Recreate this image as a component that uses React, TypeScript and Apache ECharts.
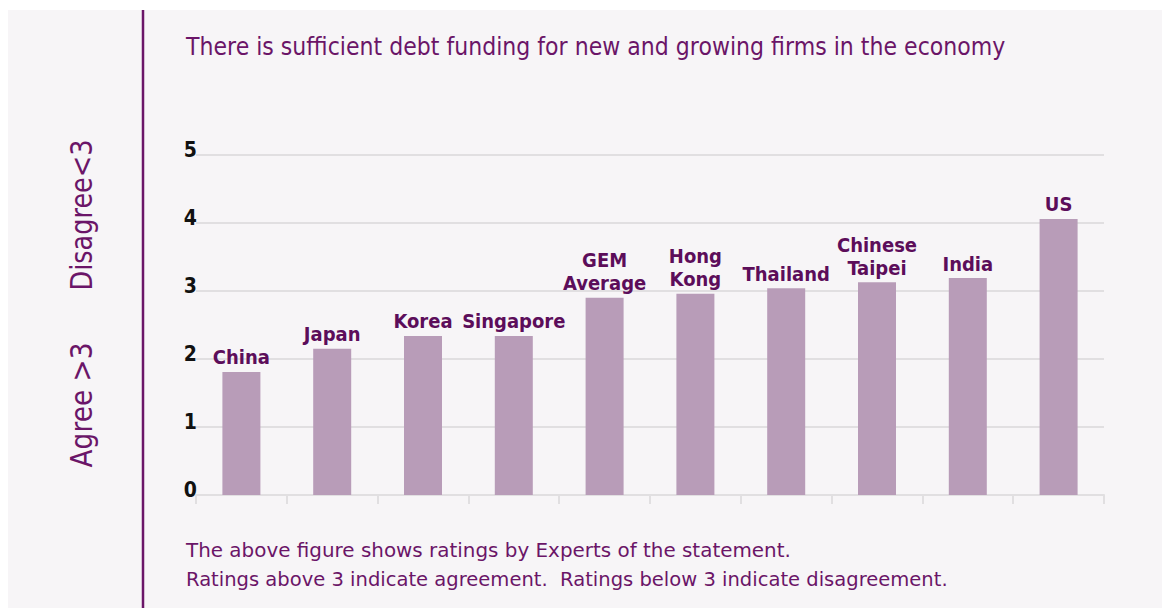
import React, { useEffect, useRef } from "react";
import * as echarts from "echarts";

const categories: string[] = [
  "China",
  "Japan",
  "Korea",
  "Singapore",
  "GEM\nAverage",
  "Hong\nKong",
  "Thailand",
  "Chinese\nTaipei",
  "India",
  "US",
];
const ratings: number[] = [1.81, 2.15, 2.34, 2.34, 2.9, 2.96, 3.04, 3.13, 3.19, 4.06];
const yTicks = { min: 0, max: 5, interval: 1 };

const titleText = "There is sufficient debt funding for new and growing firms in the economy";
const noteLine1 = "The above figure shows ratings by Experts of the statement.";
const noteLine2 = "Ratings above 3 indicate agreement.  Ratings below 3 indicate disagreement.";
const sideTop = "Disagree<3";
const sideBottom = "Agree >3";

const PURPLE = "#6b1568";
const LABEL = "#5c0d5a";
const BAR = "#b89cb8";
const GRID = "#e1dfe1";
const BG = "#f7f5f7";
const FONT = "DejaVu Sans";
const COND = "'DejaVu Sans Condensed', 'DejaVu Sans'";

function measure(text: string, size: number, weight = "normal"): number {
  const c = document.createElement("canvas").getContext("2d");
  if (!c) return text.length * size * 0.55;
  c.font = `${weight} ${size}px "${FONT}"`;
  return c.measureText(text).width;
}

function fitText(
  text: string,
  size: number,
  targetWidth: number,
  x: number,
  y: number,
  opts: any = {}
) {
  const w = measure(text, size);
  return {
    type: "text",
    x,
    y,
    rotation: opts.rotation || 0,
    scaleX: targetWidth / w,
    scaleY: 1,
    silent: true,
    style: {
      text,
      fill: PURPLE,
      fontSize: size,
      fontFamily: FONT,
      textAlign: opts.align || "left",
      textVerticalAlign: "middle",
    },
  };
}

export default function App() {
  const ref = useRef<HTMLDivElement>(null);
  useEffect(() => {
    document.documentElement.style.overflow = "hidden";
    if (!ref.current) return;
    const chart = echarts.init(ref.current, undefined, { renderer: "svg" });
    chart.setOption({
      animation: false,
      backgroundColor: BG,
      grid: { left: 188, right: 58, top: 145, bottom: 113, containLabel: false },
      xAxis: {
        type: "category",
        data: categories,
        boundaryGap: true,
        axisLine: { show: true, lineStyle: { color: GRID, width: 2 } },
        axisTick: { show: true, length: 9, lineStyle: { color: GRID, width: 2 } },
        axisLabel: { show: false },
        splitLine: { show: false },
      },
      yAxis: {
        type: "value",
        min: yTicks.min,
        max: yTicks.max,
        interval: yTicks.interval,
        axisLine: { show: false },
        axisTick: { show: false },
        axisLabel: {
          margin: -1,
          color: "#111111",
          fontSize: 21,
          fontWeight: "bold",
          fontFamily: COND,
          verticalAlign: "bottom",
          lineHeight: 11,
        },
        splitLine: { show: true, lineStyle: { color: GRID, width: 2 } },
      },
      series: [
        {
          type: "bar",
          data: ratings,
          barWidth: 38,
          itemStyle: { color: BAR },
          label: {
            show: true,
            position: "top",
            distance: 3,
            formatter: (p: any) => categories[p.dataIndex],
            color: LABEL,
            fontSize: 20,
            fontWeight: "bold",
            fontFamily: COND,
            lineHeight: 23,
          },
        },
      ],
      graphic: [
        {
          type: "line",
          silent: true,
          shape: { x1: 135, y1: 0, x2: 135, y2: 598 },
          style: { stroke: PURPLE, lineWidth: 2.5 },
        },
        fitText(titleText, 24, 820, 178, 36.5),
        fitText(noteLine1, 20, 605, 178, 540),
        fitText(noteLine2, 20, 762, 178, 569),
        fitText(sideTop, 31, 151, 73.5, 205, { rotation: Math.PI / 2, align: "center" }),
        fitText(sideBottom, 31, 125, 73.5, 395, { rotation: Math.PI / 2, align: "center" }),
      ],
    });
    return () => chart.dispose();
  }, []);
  return (
    <div
      ref={ref}
      style={{ position: "fixed", left: 8, top: 10, width: 1154, height: 598 }}
    />
  );
}
